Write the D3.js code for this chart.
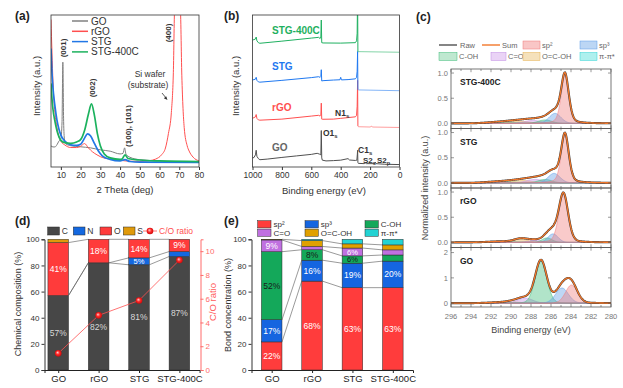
<!DOCTYPE html>
<html>
<head>
<meta charset="utf-8">
<script src="https://cdn.jsdelivr.net/npm/d3@7"></script>
<style>
  body { margin: 0; background: #fff; }
  svg { font-family: "Liberation Sans", Arial, sans-serif; }
</style>
</head>
<body>
<script>
// ---- (a) XRD ----
const xrdNames = ["GO", "rGO", "STG", "STG-400C"];
const xrdColors = ["#808080", "#ff4f4f", "#2277e6", "#1cb25e"];
const xrdGO = [[5,13.9],[6,13.2],[7,13.2],[8,14.6],[9,17],[10,18.5],[10.6,30],[11,69],[11.4,30],[11.8,18.5],[12.5,15.2],[15,14],[20,13.3],[25,12.6],[30,11.3],[35,10.4],[40,8.6],[41.5,9],[42.3,12.6],[43,8.4],[45,6.4],[50,4.8],[60,4],[70,3.5],[80,3.3]];
const xrdRGO = [[5,97],[5.5,75],[6,56],[7,36],[8,26],[9,20],[10,17],[12,14.5],[15,12.8],[18,12.8],[20,13.6],[22,15.4],[24,12.5],[26,10],[28.3,8],[30,6.8],[35,5.2],[40,4.4],[45,3.8],[50,3.7],[55,4.2],[58,5.2],[61,8],[63,12.5],[64.5,22],[66,36],[67,62],[67.7,105],[70.5,105],[71.3,60],[72.5,26],[74,14],[75,10.5],[77,6.5],[80,4]];
const xrdSTG = [[5,78],[5.5,62],[6,52],[7,40],[8,31],[9,25],[10,21],[12,17],[15,14.6],[18,14.2],[20,15],[22,19],[23.5,21.8],[25,20.6],[27,15.5],[29,10.5],[31,7.4],[35,5],[40,4],[42.5,4.8],[45,3.6],[50,3.2],[80,3]];
const xrdSTG400 = [[5,55],[5.5,45],[6,38],[7,30],[8,24],[9,20],[10,17.5],[12,16],[15,15.6],[18,16.5],[20,18],[22,24],[24,35],[25.5,41.5],[27,34],[28.5,22],[30,14],[32,8.6],[35,6],[40,5],[41,5.2],[42.5,8],[44,5.6],[50,4.6],[60,4],[80,3.6]];
const xrdTicks = [10, 20, 30, 40, 50, 60, 70, 80];

// ---- (b) XPS survey ----
const surveyNames = ["GO", "rGO", "STG", "STG-400C"];
const surveyColors = ["#505050", "#ff4f4f", "#1f78f0", "#1fb060"];
const surveyGO = [[1000,6],[990,6.2],[980,8],[975,11],[970,7],[960,5.5],[950,4.8],[900,5.2],[800,6.3],[700,7.3],[600,8.3],[560,9],[545,8.5],[535,8],[532,24],[529,6],[525,4.5],[500,4],[450,4.2],[400,4.5],[350,5.5],[340,4.6],[300,4.3],[290,4.5],[287,8],[285,11],[283,3],[280,2.4],[240,2.2],[230,2.6],[225,2.2],[170,2.2],[165,3.2],[160,2.2],[100,1.8],[0,1.6]];
const surveyRGO = [[1000,32],[990,32.5],[980,33],[975,34.5],[970,32],[960,31],[950,30.8],[800,31.5],[600,33.5],[550,34],[540,33.5],[535,34],[532,42],[529,31.5],[525,31.4],[450,31.5],[400,32],[350,32.5],[300,33],[292,34],[288,40],[285,57],[283,27],[280,26.5],[200,26.3],[190,26.9],[185,26.3],[0,26]];
const surveySTG = [[1000,57.2],[990,57.5],[980,57.8],[975,59],[970,57],[960,56],[950,55.8],[800,57],[600,58.8],[550,59.4],[540,59],[535,59.5],[532,64],[529,56.6],[520,56.8],[450,57.2],[405,57.4],[400,59],[395,57.3],[350,57.5],[300,58],[292,59],[288,63],[285,76],[283,51],[280,50.7],[0,50.2]];
const surveySTG400 = [[1000,83.5],[990,83.8],[980,84.2],[975,85.5],[970,83],[960,81.8],[950,81.4],[800,82.8],[600,84.8],[550,85.3],[540,84.5],[535,85.5],[532,96.7],[529,81.8],[520,81.6],[400,81.5],[300,81.8],[292,83],[288,88],[285,115],[283,76],[280,75.9],[0,75.5]];
const surveyTicks = [1000, 800, 600, 400, 200, 0];

// ---- (c) C1s fits ----
const xpsSamples = ["STG-400C", "STG", "rGO", "GO"];
const compNames = ["sp²", "sp³", "C-OH", "C=O", "O=C-OH", "π-π*"];
const compColors = ["#f07a7a", "#5d9be6", "#3dbb78", "#c08ae3", "#e6b04e", "#2fd3d3"];
const compLegendFill = ["#f9c6c6", "#bcd6f4", "#bfe8d0", "#ead3f6", "#f5e1bb", "#aef0ee"];
const peakCenter = [
  [284.6, 285.6, 286.6, 287.8, 289.2, 291.0],
  [284.6, 285.7, 286.6, 287.6, 289.0, 291.0],
  [284.75, 285.8, 286.4, 287.6, 289.0, 291.0],
  [283.95, 284.9, 287.0, 288.6, 289.8, 291.2]
];
const peakHeight = [
  [0.96, 0.2, 0.07, 0.06, 0.045, 0.03],
  [0.96, 0.19, 0.07, 0.07, 0.05, 0.03],
  [0.97, 0.17, 0.09, 0.04, 0.07, 0.02],
  [0.72, 0.6, 1.68, 0.2, 0.05, 0.03]
];
const peakWidth = [
  [0.45, 0.7, 0.8, 1.0, 1.2, 1.6],
  [0.45, 0.7, 0.8, 1.0, 1.2, 1.6],
  [0.55, 0.6, 0.6, 0.8, 0.8, 1.5],
  [0.7, 0.75, 0.68, 0.9, 0.9, 1.3]
];
const peakLorentz = [
  [0.35, 0.1, 0, 0, 0, 0],
  [0.35, 0.1, 0, 0, 0, 0],
  [0.25, 0, 0, 0, 0, 0],
  [0.1, 0.1, 0.1, 0, 0, 0]
];

// ---- (d) composition ----
const categories = ["GO", "rGO", "STG", "STG-400C"];
const elemNames = ["C", "N", "O", "S"];
const elemColors = ["#474747", "#1468e0", "#ff3b3b", "#e09a0a"];
const elemC = [57, 82, 80.5, 86.8];
const elemN = [0, 0, 5.3, 3.8];
const elemO = [40.5, 18, 14.2, 9.4];
const elemS = [2.5, 0, 0, 0];
const coRatio = [1.4, 4.6, 5.85, 9.25];

// ---- (e) bonds ----
const bondNames = ["sp²", "sp³", "C-OH", "C=O", "O=C-OH", "π-π*"];
const bondColors = ["#ff3c3c", "#1565e0", "#14a85a", "#c070e0", "#e0a000", "#22d3d3"];
const bondSp2 = [21.5, 68, 63, 63];
const bondSp3 = [17, 16, 18.7, 20.3];
const bondCOH = [52, 8, 5.6, 4.7];
const bondCO = [9, 2.5, 6, 3.9];
const bondOCOH = [0.5, 4.5, 3.2, 3.8];
const bondPi = [0, 1, 3.5, 4.3];

const svg = d3.select("body").append("svg").attr("width", 623).attr("height", 388);

function styleAxis(g, size, color) {
  g.attr("font-size", size).attr("font-family", null);
  g.selectAll("text").attr("fill", color);
  g.selectAll("line,path").attr("stroke", color);
}
function rotText(x, y, txt, size, opts = {}) {
  return svg.append("text")
    .attr("transform", `translate(${x},${y}) rotate(-90)`)
    .attr("text-anchor", "middle").attr("dy", "0.35em")
    .attr("font-size", size).attr("fill", opts.color || "#333")
    .attr("font-weight", opts.bold ? "bold" : null)
    .text(txt);
}
function subText(x, y, main, sub, size, color) {
  const t = svg.append("text").attr("x", x).attr("y", y).attr("font-size", size)
    .attr("fill", color).attr("font-weight", "bold");
  t.append("tspan").text(main);
  t.append("tspan").attr("dy", 2).attr("font-size", size * 0.7).text(sub);
}

// panel letters
[["(a)", 15, 20], ["(b)", 224, 20], ["(c)", 416, 21], ["(d)", 15, 225], ["(e)", 224, 225]].forEach(p => {
  svg.append("text").attr("x", p[1]).attr("y", p[2]).attr("font-size", 12)
    .attr("font-weight", "bold").attr("fill", "#222").text(p[0]);
});

// ================= (a) =================
const xA = d3.scaleLinear().domain([5, 80]).range([51, 199]);
const yA = d3.scaleLinear().domain([0, 100]).range([167, 15]);
svg.append("clipPath").attr("id", "clipA").append("rect")
  .attr("x", 51).attr("y", 15).attr("width", 148).attr("height", 152);
const lineA = d3.line().x(d => xA(d[0])).y(d => yA(d[1])).curve(d3.curveMonotoneX);
[xrdGO, xrdRGO, xrdSTG, xrdSTG400].forEach((s, i) => {
  svg.append("path").attr("d", lineA(s)).attr("clip-path", "url(#clipA)")
    .attr("fill", "none").attr("stroke", xrdColors[i]).attr("stroke-width", i >= 2 ? 1.7 : 1);
});
svg.append("rect").attr("x", 51).attr("y", 15).attr("width", 148).attr("height", 152)
  .attr("fill", "none").attr("stroke", "#333").attr("stroke-width", 0.8);
const axA = svg.append("g").attr("transform", "translate(0,167)")
  .call(d3.axisBottom(xA).tickValues(xrdTicks).tickSize(3).tickPadding(2));
axA.select(".domain").remove();
styleAxis(axA, 8.5, "#333");
svg.append("text").attr("x", 125).attr("y", 193).attr("text-anchor", "middle")
  .attr("font-size", 9.5).attr("fill", "#333").text("2 Theta (deg)");
rotText(37, 86, "Intensity (a.u.)", 9.5);
xrdNames.forEach((n, i) => {
  const y = 21 + i * 10.3;
  svg.append("line").attr("x1", 72).attr("x2", 88).attr("y1", y).attr("y2", y)
    .attr("stroke", xrdColors[i]).attr("stroke-width", 1.5);
  svg.append("text").attr("x", 91).attr("y", y).attr("dy", "0.35em").attr("font-size", 10)
    .attr("fill", "#333").text(n);
});
rotText(63, 48, "(001)", 8, { bold: true });
rotText(92, 88, "(002)", 8, { bold: true });
rotText(128, 126, "(100), (101)", 8, { bold: true });
rotText(168, 33, "(400)", 8, { bold: true });
svg.append("text").attr("x", 150).attr("y", 77).attr("text-anchor", "middle")
  .attr("font-size", 8.5).attr("fill", "#333").text("Si wafer");
svg.append("text").attr("x", 148).attr("y", 88).attr("text-anchor", "middle")
  .attr("font-size", 8.5).attr("fill", "#333").text("(substrate)");
svg.append("line").attr("x1", 162).attr("y1", 93).attr("x2", 166.5).attr("y2", 98.5)
  .attr("stroke", "#333").attr("stroke-width", 0.8);
svg.append("path").attr("d", "M167.5,100 L163.8,98.2 L166.2,96.2 Z").attr("fill", "#333");

// ================= (b) =================
const xB = d3.scaleLinear().domain([1000, 0]).range([252.5, 399.5]);
const yB = d3.scaleLinear().domain([0, 100]).range([167, 15]);
svg.append("clipPath").attr("id", "clipB").append("rect")
  .attr("x", 252.5).attr("y", 15).attr("width", 147).attr("height", 152);
const lineB = d3.line().x(d => xB(d[0])).y(d => yB(d[1]));
[surveyGO, surveyRGO, surveySTG, surveySTG400].forEach((s, i) => {
  svg.append("path").attr("d", lineB(s.filter(d => d[0] >= 283))).attr("clip-path", "url(#clipB)")
    .attr("fill", "none").attr("stroke", surveyColors[i]).attr("stroke-width", 1);
  svg.append("path").attr("d", lineB(s.filter(d => d[0] <= 283))).attr("clip-path", "url(#clipB)")
    .attr("fill", "none").attr("stroke", surveyColors[i]).attr("stroke-width", 1)
    .attr("stroke-opacity", i === 0 ? 1 : 0.55);
});
svg.append("rect").attr("x", 252.5).attr("y", 15).attr("width", 147).attr("height", 152)
  .attr("fill", "none").attr("stroke", "#333").attr("stroke-width", 0.8);
const axB = svg.append("g").attr("transform", "translate(0,167)")
  .call(d3.axisBottom(xB).tickValues(surveyTicks).tickFormat(d3.format("d")).tickSize(3).tickPadding(2));
axB.select(".domain").remove();
styleAxis(axB, 8.5, "#333");
svg.append("text").attr("x", 324).attr("y", 194).attr("text-anchor", "middle")
  .attr("font-size", 9.5).attr("fill", "#333").text("Binding energy (eV)");
rotText(236, 86, "Intensity (a.u.)", 9.5);
const surveyLabelY = [151, 110.5, 70, 34];
surveyNames.forEach((n, i) => {
  svg.append("text").attr("x", 272).attr("y", surveyLabelY[i]).attr("font-size", 10)
    .attr("font-weight", "bold").attr("fill", i === 0 ? "#666" : surveyColors[i]).text(n);
});
subText(335, 116, "N1", "s", 8.5, "#333");
subText(323, 136, "O1", "s", 8.5, "#333");
subText(358, 153, "C1", "s", 8.5, "#333");
subText(363, 163, "S2", "s", 8, "#333");
subText(377, 163, "S2", "p", 8, "#333");

// ================= (c) =================
const xC = d3.scaleLinear().domain([296, 280]).range([451, 611]);
const evGrid = d3.range(280, 296.001, 0.05);
function peak(e, c, h, w, eta) {
  const u = (e - c) / w;
  return h * ((1 - eta) * Math.exp(-Math.LN2 * u * u) + eta / (1 + u * u));
}
xpsSamples.forEach((name, i) => {
  const top = 69 + i * 59.5, bot = top + 59.5;
  const yC = d3.scaleLinear().domain(i === 3 ? [-0.15, 2.2] : [-0.1, 1.08]).range([bot, top]);
  const comps = compNames.map((_, k) => evGrid.map(e =>
    [e, peak(e, peakCenter[i][k], peakHeight[i][k], peakWidth[i][k], peakLorentz[i][k])]));
  const sum = evGrid.map((e, j) => [e, d3.sum(comps, c => c[j][1])]);
  const area = d3.area().x(d => xC(d[0])).y0(yC(0)).y1(d => yC(d[1]));
  const line = d3.line().x(d => xC(d[0])).y(d => yC(d[1]));
  [5, 4, 3, 2, 1, 0].forEach(k => {
    svg.append("path").attr("d", area(comps[k])).attr("fill", compColors[k]).attr("fill-opacity", 0.4)
      .attr("stroke", compColors[k]).attr("stroke-opacity", 0.75).attr("stroke-width", 0.7);
  });
  svg.append("path").attr("d", line(sum)).attr("fill", "none").attr("stroke", "#3a3a3a").attr("stroke-width", 2.1);
  svg.append("path").attr("d", line(sum)).attr("fill", "none").attr("stroke", "#f3782a").attr("stroke-width", 1.3);
  svg.append("rect").attr("x", 451).attr("y", top).attr("width", 160).attr("height", 59.5)
    .attr("fill", "none").attr("stroke", "#555").attr("stroke-width", 0.8);
  d3.range(280, 297).forEach(e => {
    const len = e % 2 === 0 ? 3.2 : 2;
    svg.append("line").attr("x1", xC(e)).attr("x2", xC(e)).attr("y1", top).attr("y2", top + len)
      .attr("stroke", "#555").attr("stroke-width", 0.6);
    svg.append("line").attr("x1", xC(e)).attr("x2", xC(e)).attr("y1", bot - len).attr("y2", bot)
      .attr("stroke", "#555").attr("stroke-width", 0.6);
  });
  const yt = i === 3 ? [0, 1, 2] : [0, 0.5, 1];
  yt.forEach(v => {
    svg.append("line").attr("x1", 451).attr("x2", 454).attr("y1", yC(v)).attr("y2", yC(v)).attr("stroke", "#555").attr("stroke-width", 0.6);
    svg.append("line").attr("x1", 608).attr("x2", 611).attr("y1", yC(v)).attr("y2", yC(v)).attr("stroke", "#555").attr("stroke-width", 0.6);
    svg.append("text").attr("x", 448).attr("y", yC(v)).attr("dy", "0.35em").attr("text-anchor", "end")
      .attr("font-size", 7.5).attr("fill", "#777").text(i === 3 ? d3.format("d")(v) : d3.format(".1f")(v));
  });
  svg.append("text").attr("x", 460).attr("y", top + 16).attr("font-size", 8.5)
    .attr("font-weight", "bold").attr("fill", "#222").text(name);
  if (i === 3) {
    d3.range(280, 297, 2).forEach(e => {
      svg.append("text").attr("x", xC(e)).attr("y", bot + 12).attr("text-anchor", "middle")
        .attr("font-size", 7.5).attr("fill", "#777").text(e);
    });
  }
});
svg.append("text").attr("x", 531).attr("y", 333).attr("text-anchor", "middle")
  .attr("font-size", 9).attr("fill", "#444").text("Binding energy (eV)");
rotText(425, 188, "Normalized intensity (a.u.)", 9, { color: "#444" });
// legend (c): raw and sum lines, then component boxes
svg.append("line").attr("x1", 439).attr("x2", 457).attr("y1", 45).attr("y2", 45).attr("stroke", "#333").attr("stroke-width", 1.2);
svg.append("text").attr("x", 460).attr("y", 45).attr("dy", "0.35em").attr("font-size", 7.5).attr("fill", "#666").text("Raw");
svg.append("line").attr("x1", 482).attr("x2", 500).attr("y1", 45).attr("y2", 45).attr("stroke", "#f3782a").attr("stroke-width", 1.4);
svg.append("text").attr("x", 502).attr("y", 45).attr("dy", "0.35em").attr("font-size", 7.5).attr("fill", "#666").text("Sum");
const legCx = [523, 580, 439, 491, 523, 580];
const legCw = [17, 17, 18, 15, 17, 17];
compNames.forEach((n, k) => {
  const y = k < 2 ? 45 : 56.5;
  svg.append("rect").attr("x", legCx[k]).attr("y", y - 4).attr("width", legCw[k]).attr("height", 8)
    .attr("fill", compLegendFill[k]).attr("stroke", compColors[k]).attr("stroke-width", 0.5);
  svg.append("text").attr("x", legCx[k] + legCw[k] + 2).attr("y", y).attr("dy", "0.35em")
    .attr("font-size", 7.5).attr("fill", "#666").text(n);
});

// ================= (d) =================
const xD = d3.scaleLinear().domain([0.66, 4.5]).range([44.5, 199.6]);
const yD = d3.scaleLinear().domain([0, 100]).range([370, 239.3]);
const yDR = d3.scaleLinear().domain([0, 11]).range([370, 239.3]);
const barW = 20.6;
const rowsD = categories.map((c, i) => ({ cat: c, C: elemC[i], N: elemN[i], O: elemO[i], S: elemS[i] }));
const stackD = d3.stack().keys(elemNames)(rowsD);

function drawStack(stack, x, y, colors, labelFn) {
  stack.forEach((s, k) => {
    s.forEach((d, i) => {
      if (d[1] - d[0] <= 0) return;
      svg.append("rect").attr("x", x(i + 1) - barW / 2).attr("y", y(d[1]))
        .attr("width", barW).attr("height", y(d[0]) - y(d[1]))
        .attr("fill", colors[k]).attr("stroke", "#2a2a2a").attr("stroke-width", 0.5);
    });
  });
  for (let i = 0; i < categories.length - 1; i++) {
    for (let k = 0; k < stack.length - 1; k++) {
      svg.append("line").attr("x1", x(i + 1) + barW / 2).attr("y1", y(stack[k][i][1]))
        .attr("x2", x(i + 2) - barW / 2).attr("y2", y(stack[k][i + 1][1]))
        .attr("stroke", "#555").attr("stroke-width", 0.6);
    }
  }
  stack.forEach((s, k) => {
    s.forEach((d, i) => {
      const v = d[1] - d[0];
      const lab = labelFn(k, i, v);
      if (!lab) return;
      svg.append("text").attr("x", x(i + 1)).attr("y", y(lab.mid !== undefined ? lab.mid : (d[0] + d[1]) / 2))
        .attr("dy", "0.35em").attr("text-anchor", "middle").attr("font-size", v < 8 ? 7.5 : 8.5)
        .attr("fill", lab.color).text(Math.round(v) + "%");
    });
  });
}

drawStack(stackD, xD, yD, elemColors, (k, i, v) => {
  if (k === 3 || v < 4) return null;
  if (k === 0) return { color: "#d8d8d8", mid: i === 1 ? 32.5 : undefined };
  return { color: "#fff" };
});
const axDL = svg.append("g").attr("transform", "translate(44.5,0)")
  .call(d3.axisLeft(yD).tickValues([0, 20, 40, 60, 80, 100]).tickSize(3).tickPadding(2));
styleAxis(axDL, 8, "#333");
const axDR = svg.append("g").attr("transform", "translate(200.5,0)")
  .call(d3.axisRight(yDR).tickValues([0, 2, 4, 6, 8, 10]).tickSize(3).tickPadding(2));
styleAxis(axDR, 8, "#ff6b6b");
const axDB = svg.append("g").attr("transform", "translate(0,370)")
  .call(d3.axisBottom(xD).tickValues([1, 2, 3, 4]).tickFormat(d => categories[d - 1]).tickSize(3).tickPadding(2));
styleAxis(axDB, 9.5, "#222");
rotText(18, 304, "Chemical composition (%)", 9, { color: "#333" });
rotText(213, 302, "C/O ratio", 9.5, { color: "#ff5a5a" });

const grad = svg.append("defs").append("radialGradient").attr("id", "ball")
  .attr("cx", "50%").attr("cy", "50%").attr("fx", "38%").attr("fy", "35%").attr("r", "60%");
grad.append("stop").attr("offset", "0%").attr("stop-color", "#ffd0d0");
grad.append("stop").attr("offset", "45%").attr("stop-color", "#ff2a2a");
grad.append("stop").attr("offset", "100%").attr("stop-color", "#c00000");
svg.append("path").attr("d", d3.line().x((d, i) => xD(i + 1)).y(d => yDR(d))(coRatio))
  .attr("fill", "none").attr("stroke", "#ff5050").attr("stroke-width", 0.8);
coRatio.forEach((v, i) => {
  svg.append("circle").attr("cx", xD(i + 1)).attr("cy", yDR(v)).attr("r", 3.3).attr("fill", "url(#ball)");
});
// legend (d)
const legDx = [47.7, 73.3, 100, 123.3];
elemNames.forEach((n, k) => {
  svg.append("rect").attr("x", legDx[k]).attr("y", 227).attr("width", 11.7).attr("height", 8)
    .attr("fill", elemColors[k]).attr("stroke", "#2a2a2a").attr("stroke-width", 0.5);
  svg.append("text").attr("x", legDx[k] + 14).attr("y", 231).attr("dy", "0.35em")
    .attr("font-size", 8.5).attr("fill", "#333").text(n);
});
svg.append("line").attr("x1", 143).attr("x2", 157).attr("y1", 231).attr("y2", 231).attr("stroke", "#ff5050").attr("stroke-width", 0.8);
svg.append("circle").attr("cx", 150).attr("cy", 231).attr("r", 3.3).attr("fill", "url(#ball)");
svg.append("text").attr("x", 159).attr("y", 231).attr("dy", "0.35em").attr("font-size", 8.5)
  .attr("fill", "#ff5050").text("C/O ratio");

// ================= (e) =================
const xE = d3.scaleLinear().domain([0.5, 4.5]).range([251.5, 413]);
const yE = d3.scaleLinear().domain([0, 100]).range([370, 239.3]);
const bondKeys = ["sp2", "sp3", "COH", "CO", "OCOH", "pi"];
const rowsE = categories.map((c, i) => ({ cat: c, sp2: bondSp2[i], sp3: bondSp3[i], COH: bondCOH[i], CO: bondCO[i], OCOH: bondOCOH[i], pi: bondPi[i] }));
const stackE = d3.stack().keys(bondKeys)(rowsE);
drawStack(stackE, xE, yE, bondColors, (k, i, v) => {
  if (k > 3 || v < 5) return null;
  return { color: k === 2 ? "#1a1a1a" : "#fff" };
});
const axEL = svg.append("g").attr("transform", "translate(251.5,0)")
  .call(d3.axisLeft(yE).tickValues([0, 20, 40, 60, 80, 100]).tickSize(3).tickPadding(2));
styleAxis(axEL, 8, "#333");
const axEB = svg.append("g").attr("transform", "translate(0,370)")
  .call(d3.axisBottom(xE).tickValues([1, 2, 3, 4]).tickFormat(d => categories[d - 1]).tickSize(3).tickPadding(2));
styleAxis(axEB, 9.5, "#222");
rotText(228, 305, "Bond concentration (%)", 9, { color: "#333" });
const legE = [[257.7, 224.3], [305, 224.3], [365, 224.3], [257.7, 232.7], [305, 232.7], [365, 232.7]];
bondNames.forEach((n, k) => {
  svg.append("rect").attr("x", legE[k][0]).attr("y", legE[k][1] - 3.6).attr("width", 13.3).attr("height", 7.2)
    .attr("fill", bondColors[k]).attr("stroke", "#2a2a2a").attr("stroke-width", 0.5);
  svg.append("text").attr("x", legE[k][0] + 15.8).attr("y", legE[k][1]).attr("dy", "0.35em")
    .attr("font-size", 8).attr("fill", "#333").text(n);
});
</script>
</body>
</html>
